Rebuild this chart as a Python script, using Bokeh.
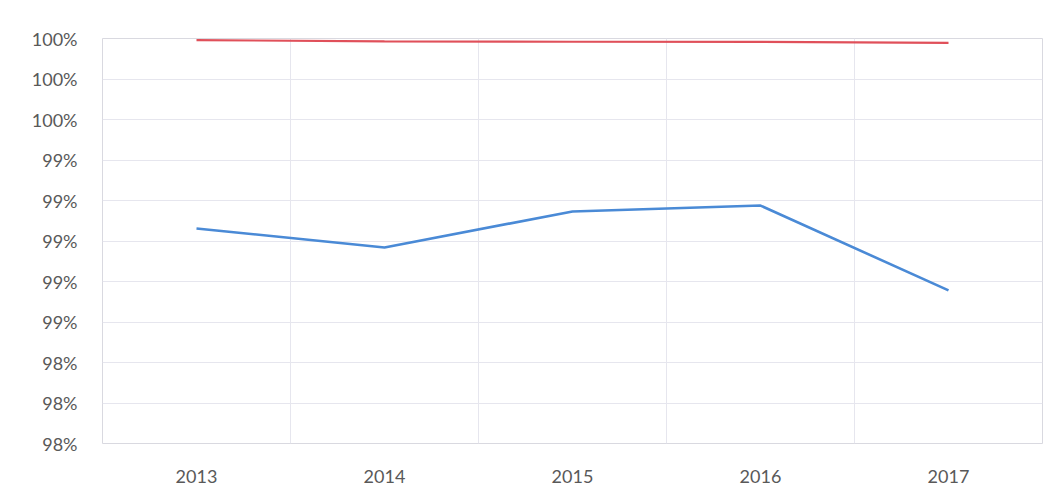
from bokeh.plotting import figure
from bokeh.models import FixedTicker
from bokeh.embed import file_html
from bokeh.resources import INLINE

years = ["2013", "2014", "2015", "2016", "2017"]
series_red = [99.992, 99.986, 99.984, 99.983, 99.978]
series_blue = [99.062, 98.968, 99.146, 99.175, 98.756]
y_ticks = [98.0, 98.2, 98.4, 98.6, 98.8, 99.0, 99.2, 99.4, 99.6, 99.8, 100.0]
y_labels = ["98%", "98%", "98%", "99%", "99%", "99%", "99%", "99%", "100%", "100%", "100%"]

xs = [i + 0.5 for i in range(len(years))]

p = figure(width=1060, height=502, output_backend="svg", toolbar_location=None,
           x_range=(0, len(years)), y_range=(98.0, 100.0),
           min_border_left=102, min_border_right=18, min_border_top=38, min_border_bottom=59)

p.line(xs, series_red, line_color="#e0505a", line_width=2.2)
p.line(xs, series_blue, line_color="#4a8ad6", line_width=2.6)

p.xaxis.ticker = FixedTicker(ticks=xs)
p.xaxis.major_label_overrides = {x: y for x, y in zip(xs, years)}
p.yaxis.ticker = FixedTicker(ticks=y_ticks)
p.yaxis.major_label_overrides = {t: l for t, l in zip(y_ticks, y_labels)}

for ax in (p.xaxis[0], p.yaxis[0]):
    ax.axis_line_color = None
    ax.major_tick_line_color = None
    ax.minor_tick_line_color = None
    ax.major_label_text_font = "Lato"
    ax.major_label_text_font_size = "18px"
    ax.major_label_text_color = "#595959"
p.yaxis.major_label_standoff = 19
p.xaxis.major_label_standoff = 20

p.xgrid.ticker = FixedTicker(ticks=[1, 2, 3, 4])
p.xgrid.grid_line_color = "#e6e6ee"
p.ygrid.ticker = FixedTicker(ticks=y_ticks)
p.ygrid.grid_line_color = "#e6e6ee"

p.outline_line_color = "#d9d9e0"
p.background_fill_color = "white"
p.border_fill_color = "white"

open("out.html", "w").write(file_html(p, INLINE))
